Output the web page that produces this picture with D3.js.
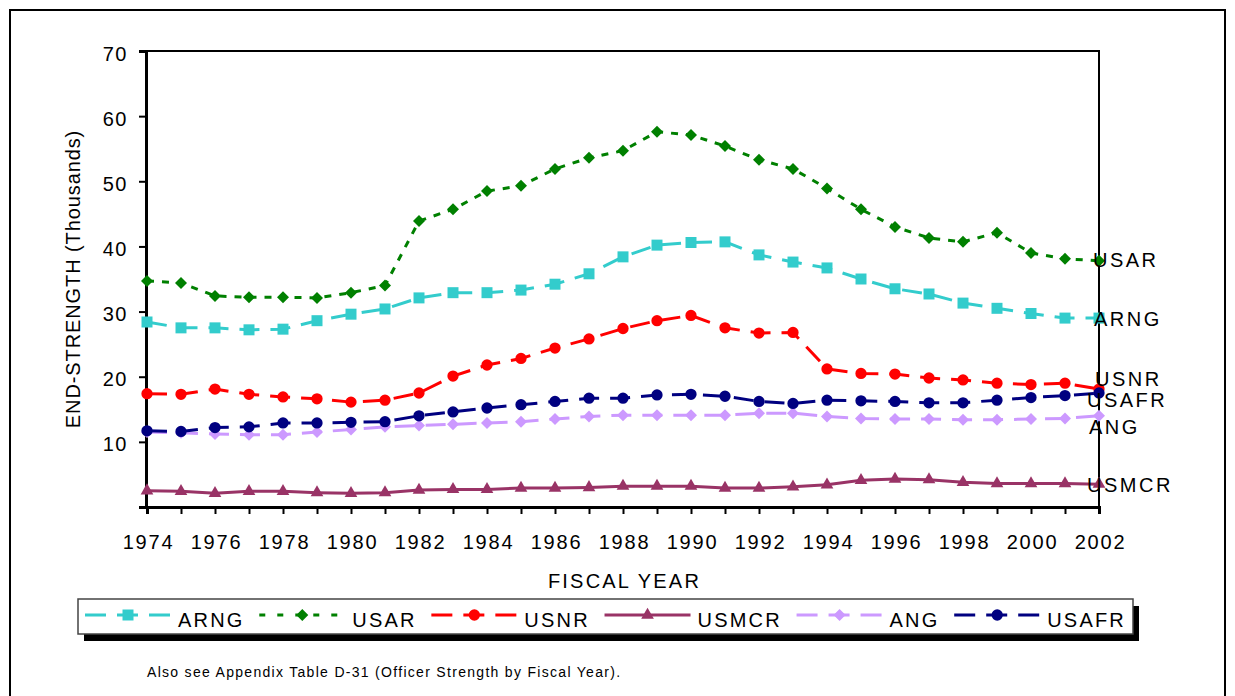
<!DOCTYPE html>
<html>
<head>
<meta charset="utf-8">
<script src="https://cdn.jsdelivr.net/npm/d3@7"></script>
<style>
  body { margin: 0; background: #fff; }
  text { font-family: "Liberation Sans", Arial, sans-serif; fill: #000; }
</style>
</head>
<body>
<svg width="1235" height="696"></svg>
<script>
const svg = d3.select('svg')

// data (thousands), fiscal years 1974..2002
const years = d3.range(1974, 2003)
const arng  = [28.4,27.5,27.5,27.2,27.3,28.6,29.6,30.4,32.1,32.9,32.9,33.3,34.2,35.8,38.4,40.2,40.6,40.7,38.7,37.6,36.7,35.0,33.5,32.7,31.3,30.5,29.7,29.0,29.0]
const usar  = [34.7,34.4,32.4,32.2,32.2,32.1,32.9,34.0,43.9,45.7,48.5,49.3,51.9,53.6,54.7,57.6,57.1,55.4,53.3,51.9,48.9,45.7,43.0,41.3,40.7,42.1,39.0,38.1,37.8]
const usnr  = [17.4,17.3,18.1,17.3,16.9,16.6,16.1,16.4,17.5,20.1,21.8,22.8,24.4,25.8,27.4,28.6,29.4,27.5,26.7,26.8,21.2,20.5,20.4,19.8,19.5,19.0,18.8,19.0,18.1]
const usmcr = [2.5,2.4,2.1,2.4,2.4,2.2,2.1,2.2,2.6,2.7,2.7,2.9,2.9,3.0,3.2,3.2,3.2,2.9,2.9,3.1,3.4,4.1,4.3,4.2,3.8,3.6,3.6,3.6,3.5]
const ang   = [11.5,11.4,11.2,11.1,11.1,11.5,11.9,12.3,12.5,12.7,12.9,13.1,13.5,13.9,14.1,14.1,14.1,14.1,14.4,14.4,13.9,13.6,13.5,13.5,13.4,13.4,13.5,13.6,14.0]
const usafr = [11.7,11.6,12.2,12.3,12.9,12.9,13.0,13.1,14.0,14.6,15.2,15.7,16.2,16.7,16.7,17.2,17.3,17.0,16.2,15.9,16.4,16.3,16.2,16.0,16.0,16.4,16.8,17.1,17.5]
const yTicks = [0,10,20,30,40,50,60,70]
const xLabels = d3.range(1974, 2003, 2)

const series = [
  {name:'ARNG',  values:arng,  color:'#33CCCC', dash:'20,11', marker:'square'},
  {name:'USAR',  values:usar,  color:'#008000', dash:'7,8',   marker:'diamond'},
  {name:'USNR',  values:usnr,  color:'#FF0000', dash:'20,11', marker:'circle'},
  {name:'USMCR', values:usmcr, color:'#993366', dash:null,    marker:'triangle'},
  {name:'ANG',   values:ang,   color:'#CC99FF', dash:'20,11', marker:'diamond'},
  {name:'USAFR', values:usafr, color:'#000080', dash:'20,11', marker:'circle'},
]
// end-of-line label nudges
const labelNudge = {USAR:[-6,6], ARNG:[-5,8], USNR:[-4,-3], USAFR:[-12,14], ANG:[-10,18], USMCR:[-12,8]}

const m = {left:146, right:1099, top:51, bottom:507}
const x = d3.scaleLinear().domain([1974,2002]).range([m.left+1, m.right])
const y = d3.scaleLinear().domain([0,70]).range([m.bottom, m.top])

const markerPath = {
  square: d3.symbol(d3.symbolSquare, 121)(),
  diamond: d3.symbol(d3.symbolSquare, 72)(),
  circle: d3.symbol(d3.symbolCircle, 100)(),
  triangle: d3.symbol(d3.symbolTriangle, 70)(),
}
const markerRot = {square:0, diamond:45, circle:0, triangle:0}

// outer frame
svg.append('rect').attr('x',10).attr('y',10).attr('width',1215).attr('height',720)
  .attr('fill','none').attr('stroke','#000').attr('stroke-width',2)

// plot frame
svg.append('rect').attr('x',m.left).attr('y',m.top).attr('width',m.right-m.left).attr('height',m.bottom-m.top)
  .attr('fill','none').attr('stroke','#000').attr('stroke-width',2)

// y axis
const yAxis = svg.append('g').attr('transform',`translate(${m.left},0)`)
  .call(d3.axisLeft(y).tickValues(yTicks).tickSize(7).tickFormat(d => d ? d : ''))
yAxis.select('.domain').attr('stroke-width',3)
yAxis.selectAll('line').attr('stroke-width',2)
yAxis.selectAll('text').attr('font-size',20).attr('letter-spacing',1.5)
  .attr('x',-18).attr('dy','0.45em').attr('font-family','Liberation Sans, Arial, sans-serif').attr('fill','#000')

// x axis
const xAxis = svg.append('g').attr('transform',`translate(0,${m.bottom})`)
  .call(d3.axisBottom(x).tickValues(years).tickSize(7).tickFormat(d => xLabels.includes(d) ? d : ''))
xAxis.select('.domain').attr('stroke-width',3)
xAxis.selectAll('line').attr('stroke-width',2)
xAxis.selectAll('text').attr('font-size',20).attr('letter-spacing',1.8)
  .attr('y',28).attr('dy','0.71em').attr('font-family','Liberation Sans, Arial, sans-serif').attr('fill','#000')
  .attr('dx',1)
svg.selectAll('.domain, .tick line').attr('stroke','#000')

// axis titles
svg.append('text').attr('x',(m.left+m.right)/2+2).attr('y',588).attr('text-anchor','middle')
  .attr('font-size',20).attr('letter-spacing',2.2).text('FISCAL YEAR')
svg.append('text').attr('transform',`translate(80,${(m.top+m.bottom)/2}) rotate(-90)`)
  .attr('text-anchor','middle').attr('font-size',20).attr('letter-spacing',0.9)
  .text('END-STRENGTH (Thousands)')

// lines and markers
const line = d3.line().x((d,i) => x(years[i])).y(d => y(d))
series.forEach(s => {
  svg.append('path').attr('d',line(s.values)).attr('fill','none')
    .attr('stroke',s.color).attr('stroke-width',3)
    .attr('stroke-dasharray',s.dash)
  svg.append('g').selectAll('path').data(s.values).join('path')
    .attr('d',markerPath[s.marker]).attr('fill',s.color)
    .attr('transform',(d,i) => `translate(${x(years[i])},${y(d)}) rotate(${markerRot[s.marker]})`)
})

// end labels
series.forEach(s => {
  const last = s.values[s.values.length-1]
  const [dx,dy] = labelNudge[s.name]
  svg.append('text').attr('x',x(2002)+dx).attr('y',y(last)+dy)
    .attr('font-size',20).attr('letter-spacing',2.5).text(s.name)
})

// legend
const lg = {x:78, y:599, w:1055, h:35}
svg.append('rect').attr('x',lg.x+6).attr('y',lg.y+7).attr('width',lg.w).attr('height',lg.h).attr('fill','#000')
svg.append('rect').attr('x',lg.x).attr('y',lg.y).attr('width',lg.w).attr('height',lg.h)
  .attr('fill','#fff').attr('stroke','#444').attr('stroke-width',1.5)
const sampleW = 86, textGap = 7
const items = series.map(s => {
  const g = svg.append('g')
  const t = g.append('text').attr('font-size',20).attr('letter-spacing',2.2).attr('y',lg.y+28).text(s.name)
  return {s, g, t, tw: t.node().getComputedTextLength()}
})
const used = d3.sum(items, d => sampleW + textGap + d.tw)
const gap = (lg.w - 14 - used) / (items.length - 1)
let cx = lg.x + 7
items.forEach(d => {
  const ly = lg.y + 16
  d.g.insert('line','text').attr('x1',cx).attr('x2',cx+sampleW).attr('y1',ly).attr('y2',ly)
    .attr('stroke',d.s.color).attr('stroke-width',3)
    .attr('stroke-dasharray', d.s.dash === '7,8' ? '6,12' : (d.s.dash ? '21,11' : null))
  d.g.insert('path','text').attr('d',markerPath[d.s.marker]).attr('fill',d.s.color)
    .attr('transform',`translate(${cx+sampleW/2},${ly}) rotate(${markerRot[d.s.marker]})`)
  d.t.attr('x',cx+sampleW+textGap)
  cx += sampleW + textGap + d.tw + gap
})

// footnote
svg.append('text').attr('x',147).attr('y',677).attr('font-size',14).attr('letter-spacing',1.3)
  .text('Also see Appendix Table D-31 (Officer Strength by Fiscal Year).')
</script>
</body>
</html>
